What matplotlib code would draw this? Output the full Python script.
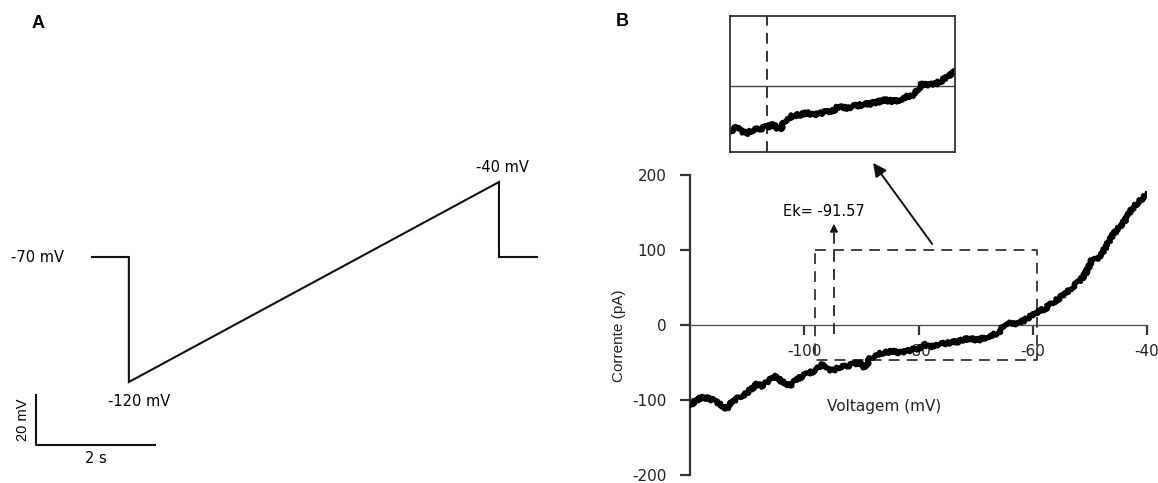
import matplotlib
matplotlib.use("Agg")
import matplotlib.pyplot as plt

# ---------------- data ----------------
# Panel A: voltage protocol
step_time_s = [0.0, 0.62, 0.62, 6.84, 6.84, 7.48]
step_mv = [-70, -70, -120, -40, -70, -70]
protocol_labels = ["-70 mV", "-120 mV", "-40 mV"]

# Panel B: I-V curve
iv_mv = [-119.9, -119.1, -117.9, -116.7, -115.6, -114.4, -113.5, -112.7, -111.5, -110.3,
         -109.2, -108.3, -107.4, -106.2, -105.4, -104.5, -103.3, -102.4, -101.6, -100.4,
         -99.2, -98.1, -96.9, -96.0, -95.2, -94.0, -92.8, -91.7, -90.5, -89.3,
         -88.5, -87.3, -85.8, -84.7, -83.5, -82.3, -81.2, -80.0, -79.1, -77.7,
         -76.5, -74.8, -73.0, -71.3, -69.5, -67.8, -66.0, -64.8, -63.7, -62.5,
         -61.3, -60.2, -59.0, -57.8, -56.7, -55.5, -54.3, -53.2, -52.0, -50.8,
         -49.7, -48.5, -47.3, -46.2, -45.0, -43.8, -42.7, -41.5, -40.0]
iv_pa = [-107, -101, -96, -98, -101, -107, -112, -103, -96, -92,
         -85, -79, -81, -75, -68, -72, -79, -81, -75, -68,
         -64, -61, -53, -59, -61, -57, -55, -53, -50, -57,
         -44, -39, -37, -35, -37, -35, -33, -31, -26, -29,
         -26, -24, -22, -18, -20, -15, -11, 2, 2, 2,
         7, 13, 18, 22, 29, 35, 42, 50, 57, 68,
         86, 88, 103, 118, 129, 140, 154, 164, 175]

ek_mv = -91.57
x_ticks = [-100, -80, -60, -40]
y_ticks = [200, 100, 0, -100, -200]

W, H = 1158, 483
fig = plt.figure(figsize=(W / 100, H / 100), dpi=100)
TXT = "DejaVu Sans"
ROT = "Liberation Sans"
ink = "#111111"


def fx(px):
    return px / W


def fy(py):
    return 1 - py / H


# ---------------- Panel A ----------------
axA = fig.add_axes([0, 0, 0.5, 1])
axA.set_xlim(-1.546, 8.185)
axA.set_ylim(-160.4, 32.8)
axA.axis("off")
axA.plot(step_time_s, step_mv, color=ink, lw=1.5, solid_joinstyle="miter")
axA.text(-0.92, -70, protocol_labels[0], ha="center", va="center", fontsize=10.5, family=TXT)
axA.text(0.79, -128, protocol_labels[1], ha="center", va="center", fontsize=10.5, family=TXT)
axA.text(6.89, -34.4, protocol_labels[2], ha="center", va="center", fontsize=10.5, family=TXT)
# scale bar
axA.plot([-0.94, -0.94, 1.06], [-125, -145, -145], color=ink, lw=1.5)
axA.text(-1.16, -135, "20 mV", rotation=90, ha="center", va="center", fontsize=10.5, family=ROT)
axA.text(0.06, -150.6, "2 s", ha="center", va="center", fontsize=10.5, family=TXT)
fig.text(fx(38), fy(23), "A", fontsize=13, fontweight="bold", family=ROT, ha="center", va="center")
fig.text(fx(622), fy(21), "B", fontsize=13, fontweight="bold", family=ROT, ha="center", va="center")

# ---------------- Panel B ----------------
axB = fig.add_axes([fx(690), fy(475), fx(1147) - fx(690), fy(175) - fy(475)])
axB.set_xlim(-120, -40)
axB.set_ylim(-200, 200)
for s in ["top", "right"]:
    axB.spines[s].set_visible(False)
axB.spines["bottom"].set_position(("data", 0))
axB.spines["bottom"].set_color("#555555")
axB.spines["bottom"].set_linewidth(1.0)
axB.spines["left"].set_color("#333333")
axB.spines["left"].set_linewidth(1.6)
axB.set_xticks(x_ticks)
axB.set_yticks(y_ticks)
axB.set_xticklabels([str(v) for v in x_ticks], family=TXT, fontsize=11)
axB.set_yticklabels([str(v) for v in y_ticks], family=TXT, fontsize=11)
axB.tick_params(axis="x", direction="out", length=7, width=1.6, color="#333333", pad=7)
axB.tick_params(axis="y", direction="out", length=7, width=1.6, color="#333333", pad=10)
for lab in axB.get_xticklabels() + axB.get_yticklabels():
    lab.set_color("#222222")

curve, = axB.plot(iv_mv, iv_pa, color="black", lw=3.6, zorder=5, solid_joinstyle="round")
curve.set_sketch_params(scale=1.6, length=3, randomness=6)

# dashed zoom box
axB.plot([-98.1, -59.2, -59.2, -98.1, -98.1], [100, 100, -46, -46, 100],
         color="#333333", lw=1.3, ls=(0, (6, 4)), zorder=4)
# Ek dashed arrow
axB.plot([-94.8, -94.8], [-12, 126], color="#222222", lw=1.3, ls=(0, (6, 4)), zorder=4)
axB.annotate("", xy=(-94.8, 135), xytext=(-94.8, 124),
             arrowprops=dict(arrowstyle="-|>", color="#111111", lw=1.0,
                             mutation_scale=12, shrinkA=0, shrinkB=0), zorder=6)
axB.text(-96.5, 152, "Ek= -91.57", ha="center", va="center", fontsize=10.5, family=TXT)

fig.text(fx(619), fy(336), "Corrente (pA)", rotation=90, ha="center", va="center",
         fontsize=11, family=ROT, color="#222222")
fig.text(fx(884), fy(406), "Voltagem (mV)", ha="center", va="center",
         fontsize=11, family=TXT, color="#222222")

# ---------------- inset ----------------
axI = fig.add_axes([fx(730), fy(152), fx(955) - fx(730), fy(16) - fy(152)])
axI.set_xlim(-98, -59)
axI.set_ylim(-85, 90)
axI.set_xticks([])
axI.set_yticks([])
for s in axI.spines.values():
    s.set_color("#333333")
    s.set_linewidth(1.3)
axI.axhline(0, color="#444444", lw=1.0)
axI.axvline(ek_mv, color="#222222", lw=1.3, ls=(0, (6, 4)))
inset_curve, = axI.plot(iv_mv, iv_pa, color="black", lw=3.8, solid_joinstyle="round")
inset_curve.set_sketch_params(scale=1.6, length=3, randomness=6)

# arrow from zoom box to inset
axB.annotate("", xy=(0.636, -0.08), xycoords=axI.transAxes,
             xytext=(-77.6, 108), textcoords="data",
             arrowprops=dict(arrowstyle="-|>", color="#111111", lw=1.4,
                             mutation_scale=20, shrinkA=0, shrinkB=0))

fig.savefig("out.png", dpi=100)
